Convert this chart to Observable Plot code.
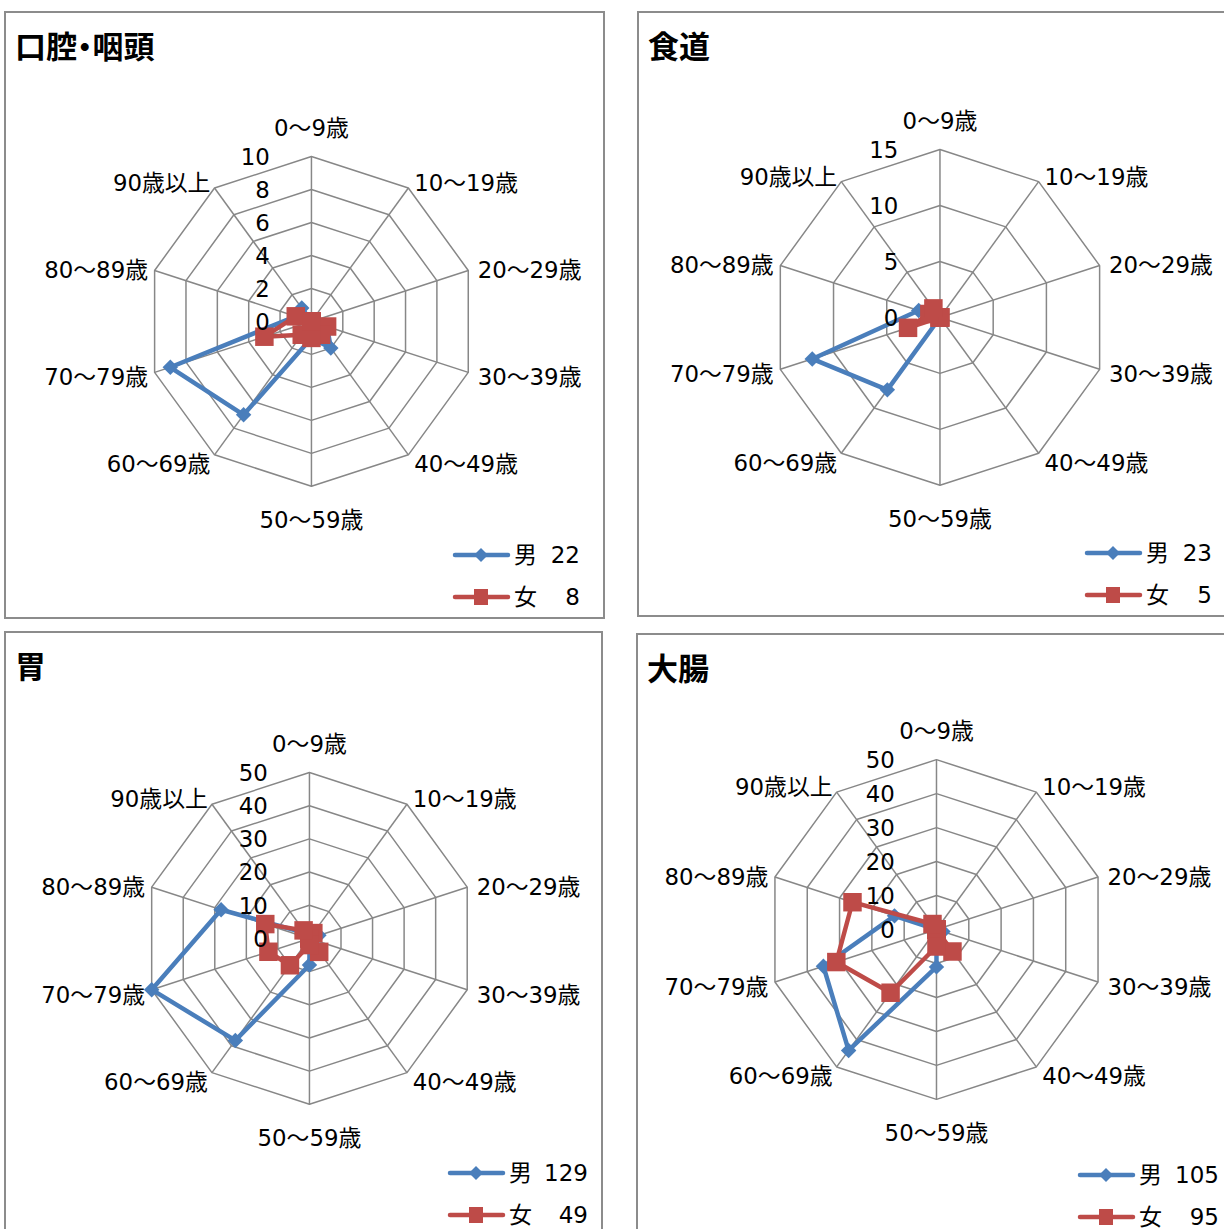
<!DOCTYPE html>
<html>
<head>
<meta charset="utf-8">
<script src="https://cdn.jsdelivr.net/npm/d3@7"></script>
<script src="https://cdn.jsdelivr.net/npm/@observablehq/plot@0.6"></script>
<style>
  body { margin: 0; background: #fff; }
  #root { position: relative; width: 1224px; height: 1229px; overflow: hidden;
          font-family: "DejaVu Sans", "Noto Sans CJK JP", sans-serif; color: #000; }
  .panel { position: absolute; box-sizing: border-box; border: 2px solid #8c8c8c; background: #fff; overflow: visible; }
  .panel svg.plot { position: absolute; left: -2px; top: -2px; }
  .title { position: absolute; font-family: "Noto Sans CJK JP", sans-serif; font-weight: 700;
           font-size: 31px; line-height: 31px; white-space: nowrap; font-feature-settings: "palt"; }
  .lg { position: absolute; font-size: 23px; white-space: nowrap; display: flex; align-items: center; height: 30px; }
  .lg svg { flex: none; overflow: visible; }
  .lg .nm { margin-left: 4px; line-height: 30px; }
  .lg .nu { margin-left: auto; line-height: 30px; }
</style>
</head>
<body>
<div id="root"></div>
<script>
// ---- data ----
const ageGroups = ["0～9歳", "10～19歳", "20～29歳", "30～39歳", "40～49歳",
                   "50～59歳", "60～69歳", "70～79歳", "80～89歳", "90歳以上"];
const sexes = ["男", "女"];

const titles = ["口腔・咽頭", "食道", "胃", "大腸"];

const oralMale     = [0, 0, 0, 1, 2, 1, 7, 9, 1, 1];
const oralFemale   = [0, 0, 0, 1, 1, 1, 1, 3, 1, 0];
const esophMale    = [0, 0, 0, 0, 0, 0, 8, 12, 2, 1];
const esophFemale  = [0, 0, 0, 0, 0, 0, 0, 3, 1, 1];
const stomachMale  = [0, 0, 3, 0, 0, 8, 38, 50, 28, 2];
const stomachFemale= [0, 2, 0, 0, 5, 2, 10, 13, 14, 3];
const colonMale    = [0, 0, 0, 2, 0, 11, 44, 35, 13, 0];
const colonFemale  = [0, 0, 0, 0, 8, 5, 23, 31, 26, 2];

const maleTotals   = [22, 23, 129, 105];
const femaleTotals = [8, 5, 49, 95];

const oralTicks    = [0, 2, 4, 6, 8, 10];
const esophTicks   = [0, 5, 10, 15];
const stomachTicks = [0, 10, 20, 30, 40, 50];
const colonTicks   = [0, 10, 20, 30, 40, 50];

// ---- layout / style (not data) ----
const BLUE = "#4a7ebb", RED = "#be4b48", GRID = "#878787";
const FONT = 23;
const layout = [
  {left: 4,   top: 11,  w: 601, h: 608, cx: 309,   cy: 312, R: 166, lgX: 446, lgY: 542, numR: 574},
  {left: 637, top: 11,  w: 601, h: 606, cx: 304.5, cy: 308, R: 169, lgX: 445, lgY: 540, numR: 573},
  {left: 4,   top: 631, w: 599, h: 610, cx: 307,   cy: 309, R: 167, lgX: 441, lgY: 540, numR: 582},
  {left: 636, top: 633, w: 601, h: 610, cx: 302,   cy: 298, R: 171, lgX: 439, lgY: 540, numR: 581}
];

const panels = [
  {male: oralMale,    female: oralFemale,    ticks: oralTicks},
  {male: esophMale,   female: esophFemale,   ticks: esophTicks},
  {male: stomachMale, female: stomachFemale, ticks: stomachTicks},
  {male: colonMale,   female: colonFemale,   ticks: colonTicks}
];

const n = ageGroups.length;
const ang = i => 2 * Math.PI * i / n;
const px = (v, i) => v * Math.sin(ang(i));
const py = (v, i) => v * Math.cos(ang(i));

function radar(p, L) {
  const max = d3.max(p.ticks);
  const u = max / L.R; // data units per pixel
  const rings = p.ticks.filter(t => t > 0).flatMap(t =>
    d3.range(n + 1).map(i => ({t, x: px(t, i % n), y: py(t, i % n)})));
  const spokes = ageGroups.map((g, i) => ({x1: 0, y1: 0, x2: px(max, i), y2: py(max, i)}));
  const series = (vals, sex) => d3.range(n + 1).map(i => ({
    sex, age: ageGroups[i % n], v: vals[i % n], x: px(vals[i % n], i % n), y: py(vals[i % n], i % n)}));
  const male = series(p.male, sexes[0]);
  const female = series(p.female, sexes[1]);
  const labels = ageGroups.map((g, i) => {
    const s = Math.sin(ang(i)), down = -Math.cos(ang(i));
    const side = Math.abs(s) < 1e-6 ? "mid" : (s > 0 ? "right" : "left");
    let ox, oy; // pixel offsets from the outer vertex (oy downward)
    if (side === "mid") { ox = 0; oy = down < 0 ? -28 : 35; }
    else { ox = (s > 0 ? 10 : 7) * s; oy = 7 * down + 3 + 2 * down; }
    return {g, side, x: px(max, i) + ox * u, y: py(max, i) - oy * u};
  });
  const txt = {fill: "#000", fontSize: FONT};
  return Plot.plot({
    width: L.w, height: L.h, margin: 0,
    className: "plot",
    x: {domain: [-max, max], range: [L.cx - L.R, L.cx + L.R], axis: null},
    y: {domain: [-max, max], range: [L.cy + L.R, L.cy - L.R], axis: null},
    style: {fontFamily: '"DejaVu Sans", "Noto Sans CJK JP", sans-serif', background: "transparent", overflow: "visible"},
    marks: [
      Plot.line(rings, {x: "x", y: "y", z: "t", stroke: GRID, strokeWidth: 1.5}),
      Plot.link(spokes, {x1: "x1", y1: "y1", x2: "x2", y2: "y2", stroke: GRID, strokeWidth: 1.5}),
      Plot.text(labels.filter(d => d.side === "mid"), {x: "x", y: "y", text: "g", textAnchor: "middle", ...txt}),
      Plot.text(labels.filter(d => d.side === "right"), {x: "x", y: "y", text: "g", textAnchor: "start", ...txt}),
      Plot.text(labels.filter(d => d.side === "left"), {x: "x", y: "y", text: "g", textAnchor: "end", ...txt}),
      Plot.line(male, {x: "x", y: "y", stroke: BLUE, strokeWidth: 4.5, strokeLinejoin: "round", strokeLinecap: "round"}),
      Plot.dot(male.slice(0, n), {x: "x", y: "y", symbol: "diamond2", r: 7, fill: BLUE}),
      Plot.line(female, {x: "x", y: "y", stroke: RED, strokeWidth: 4.5, strokeLinejoin: "round", strokeLinecap: "round"}),
      Plot.dot(female.slice(0, n), {x: "x", y: "y", symbol: "square", r: 10.5, fill: RED}),
      Plot.text(p.ticks, {x: () => 0, y: d => d, text: d => String(d), dx: -42, dy: 1, textAnchor: "end", ...txt})
    ]
  });
}

function legendRow(color, marker, name, num, L, dy) {
  const row = document.createElement("div");
  row.className = "lg";
  row.style.left = L.lgX + "px";
  row.style.top = (L.lgY + dy - 15) + "px";
  row.style.width = (L.numR - L.lgX) + "px";
  const ns = "http://www.w3.org/2000/svg";
  const svg = document.createElementNS(ns, "svg");
  svg.setAttribute("width", 58); svg.setAttribute("height", 22);
  const ln = document.createElementNS(ns, "line");
  ln.setAttribute("x1", 3); ln.setAttribute("x2", 56); ln.setAttribute("y1", 11); ln.setAttribute("y2", 11);
  ln.setAttribute("stroke", color); ln.setAttribute("stroke-width", 4.5); ln.setAttribute("stroke-linecap", "round");
  svg.appendChild(ln);
  const mk = document.createElementNS(ns, "path");
  mk.setAttribute("d", marker === "diamond" ? "M29,4L36,11L29,18L22,11Z" : "M22,3H36V19H22Z");
  mk.setAttribute("fill", color);
  svg.appendChild(mk);
  row.appendChild(svg);
  const nm = document.createElement("span");
  nm.className = "nm";
  nm.textContent = name;
  row.appendChild(nm);
  const nu = document.createElement("span");
  nu.className = "nu";
  nu.textContent = String(num);
  row.appendChild(nu);
  return row;
}

const root = document.getElementById("root");
panels.forEach((p, k) => {
  const L = layout[k];
  const div = document.createElement("div");
  div.className = "panel";
  Object.assign(div.style, {left: L.left + "px", top: L.top + "px", width: L.w + "px", height: L.h + "px"});
  div.appendChild(radar(p, L));
  const t = document.createElement("div");
  t.className = "title";
  t.textContent = titles[k];
  t.style.left = "9px"; t.style.top = "16px";
  div.appendChild(t);
  div.appendChild(legendRow(BLUE, "diamond", sexes[0], maleTotals[k], L, 0));
  div.appendChild(legendRow(RED, "square", sexes[1], femaleTotals[k], L, 42));
  root.appendChild(div);
});
</script>
</body>
</html>
